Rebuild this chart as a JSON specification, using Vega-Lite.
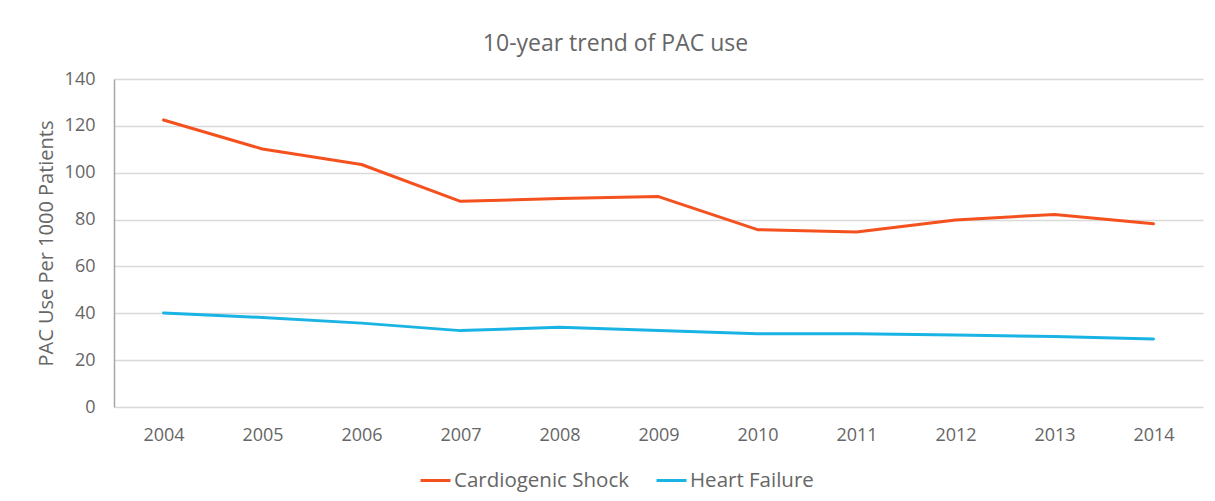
{
  "$schema": "https://vega.github.io/schema/vega-lite/v6.json",
  "autosize": {"type": "none"},
  "width": 1089,
  "height": 328,
  "padding": {"left": 114, "top": 79, "right": 12, "bottom": 94},
  "background": "white",
  "title": {
    "text": "10-year trend of PAC use",
    "font": "Open Sans",
    "fontSize": 23,
    "fontWeight": "normal",
    "color": "#666666",
    "anchor": "middle",
    "frame": "group",
    "dx": -43,
    "offset": 14
  },
  "config": {
    "view": {"stroke": null},
    "font": "Open Sans"
  },
  "data": {
    "values": [
      {"year": "2004", "series": "Cardiogenic Shock", "value": 122.5},
      {"year": "2005", "series": "Cardiogenic Shock", "value": 110.1},
      {"year": "2006", "series": "Cardiogenic Shock", "value": 103.5},
      {"year": "2007", "series": "Cardiogenic Shock", "value": 87.8},
      {"year": "2008", "series": "Cardiogenic Shock", "value": 89.0},
      {"year": "2009", "series": "Cardiogenic Shock", "value": 89.8},
      {"year": "2010", "series": "Cardiogenic Shock", "value": 75.7},
      {"year": "2011", "series": "Cardiogenic Shock", "value": 74.7},
      {"year": "2012", "series": "Cardiogenic Shock", "value": 79.8},
      {"year": "2013", "series": "Cardiogenic Shock", "value": 82.2},
      {"year": "2014", "series": "Cardiogenic Shock", "value": 78.2},
      {"year": "2004", "series": "Heart Failure", "value": 40.1},
      {"year": "2005", "series": "Heart Failure", "value": 38.2},
      {"year": "2006", "series": "Heart Failure", "value": 35.8},
      {"year": "2007", "series": "Heart Failure", "value": 32.6},
      {"year": "2008", "series": "Heart Failure", "value": 34.0},
      {"year": "2009", "series": "Heart Failure", "value": 32.7},
      {"year": "2010", "series": "Heart Failure", "value": 31.3},
      {"year": "2011", "series": "Heart Failure", "value": 31.3},
      {"year": "2012", "series": "Heart Failure", "value": 30.7},
      {"year": "2013", "series": "Heart Failure", "value": 30.1},
      {"year": "2014", "series": "Heart Failure", "value": 29.0}
    ]
  },
  "mark": {"type": "line", "strokeWidth": 3, "strokeCap": "round", "strokeJoin": "round"},
  "encoding": {
    "x": {
      "field": "year",
      "type": "ordinal",
      "scale": {"type": "point", "padding": 0.5},
      "axis": {
        "title": null,
        "labelAngle": 0,
        "labelFont": "Open Sans",
        "labelFontSize": 18,
        "labelColor": "#666666",
        "labelPadding": 19,
        "ticks": false,
        "domain": false,
        "grid": false
      }
    },
    "y": {
      "field": "value",
      "type": "quantitative",
      "scale": {"domain": [0, 140], "nice": false},
      "axis": {
        "title": "PAC Use Per 1000 Patients",
        "titleFont": "Open Sans",
        "titleFontSize": 20,
        "titleFontWeight": "normal",
        "titleColor": "#666666",
        "titlePadding": 8,
        "values": [0, 20, 40, 60, 80, 100, 120, 140],
        "labelFont": "Open Sans",
        "labelFontSize": 18,
        "labelColor": "#666666",
        "labelPadding": 19,
        "ticks": false,
        "domain": true,
        "domainColor": "#a6a6a6",
        "domainWidth": 1.5,
        "grid": true,
        "gridColor": "#d9d9d9",
        "gridWidth": 1.5
      }
    },
    "color": {
      "field": "series",
      "type": "nominal",
      "scale": {"domain": ["Cardiogenic Shock", "Heart Failure"], "range": ["#F4511E", "#1AB4E4"]},
      "legend": {
        "title": null,
        "orient": "none",
        "legendX": 305,
        "legendY": 385,
        "direction": "horizontal",
        "symbolType": "stroke",
        "symbolSize": 900,
        "symbolStrokeWidth": 3,
        "labelFont": "Open Sans",
        "labelFontSize": 20.5,
        "labelColor": "#666666",
        "labelOffset": 2,
        "labelLimit": 400,
        "columnPadding": 20
      }
    }
  }
}
